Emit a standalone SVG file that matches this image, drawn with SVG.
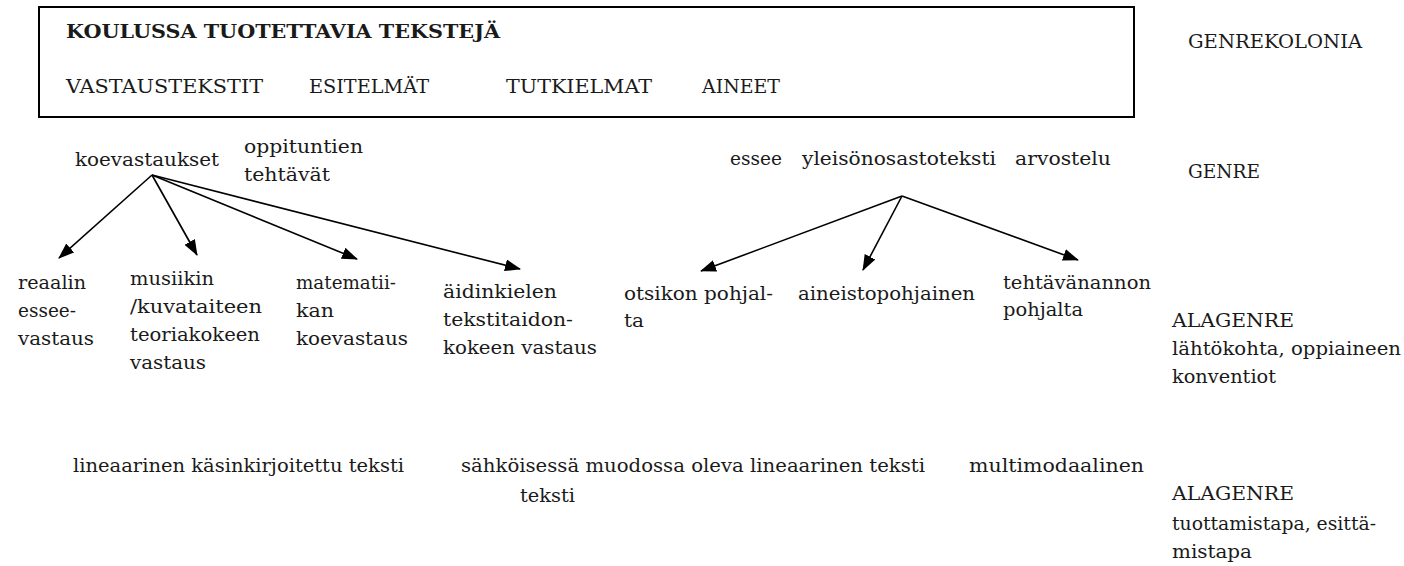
<svg xmlns="http://www.w3.org/2000/svg" width="1404" height="566" viewBox="0 0 1404 566">
  <style>
    text { font-family: 'DejaVu Serif', 'Liberation Serif', serif; font-size: 19px; fill: #1a1a1a; }
    .b { font-weight: bold; }
    .edge { stroke: #000; stroke-width: 1.6; fill: none; marker-end: url(#ah); }
  </style>
  <defs>
    <marker id="ah" markerWidth="16" markerHeight="12" refX="15" refY="6" orient="auto" markerUnits="userSpaceOnUse">
      <path d="M0,0 L16,6 L0,12 Z" fill="#000"/>
    </marker>
  </defs>
  <rect width="1404" height="566" fill="#fff"/>

  <!-- genre colony box -->
  <g id="colony">
    <rect x="39" y="7" width="1095" height="110" fill="none" stroke="#000" stroke-width="2"/>
    <text class="b" x="66" y="38" textLength="434" lengthAdjust="spacingAndGlyphs">KOULUSSA TUOTETTAVIA TEKSTEJÄ</text>
    <text x="66" y="93" textLength="197" lengthAdjust="spacingAndGlyphs">VASTAUSTEKSTIT</text>
    <text x="309" y="93" textLength="120" lengthAdjust="spacingAndGlyphs">ESITELMÄT</text>
    <text x="506" y="93" textLength="146" lengthAdjust="spacingAndGlyphs">TUTKIELMAT</text>
    <text x="702" y="93" textLength="78" lengthAdjust="spacingAndGlyphs">AINEET</text>
  </g>

  <!-- level labels -->
  <g id="levels">
    <text x="1188" y="48" textLength="174" lengthAdjust="spacingAndGlyphs">GENREKOLONIA</text>
    <text x="1188" y="178" textLength="72" lengthAdjust="spacingAndGlyphs">GENRE</text>
    <text x="1172" y="327" textLength="122" lengthAdjust="spacingAndGlyphs">ALAGENRE</text>
    <text x="1172" y="355" textLength="229" lengthAdjust="spacingAndGlyphs">lähtökohta, oppiaineen</text>
    <text x="1172" y="383" textLength="104" lengthAdjust="spacingAndGlyphs">konventiot</text>
    <text x="1172" y="500" textLength="122" lengthAdjust="spacingAndGlyphs">ALAGENRE</text>
    <text x="1172" y="530" textLength="204" lengthAdjust="spacingAndGlyphs">tuottamistapa, esittä-</text>
    <text x="1172" y="558" textLength="80" lengthAdjust="spacingAndGlyphs">mistapa</text>
  </g>

  <!-- genres -->
  <g id="koevastaukset"><text x="75" y="166" textLength="144" lengthAdjust="spacingAndGlyphs">koevastaukset</text></g>
  <g id="oppituntien-tehtavat">
    <text x="244" y="153" textLength="119" lengthAdjust="spacingAndGlyphs">oppituntien</text>
    <text x="244" y="181" textLength="86" lengthAdjust="spacingAndGlyphs">tehtävät</text>
  </g>
  <g id="essee"><text x="730" y="165" textLength="52" lengthAdjust="spacingAndGlyphs">essee</text></g>
  <g id="yleisonosastoteksti"><text x="802" y="165" textLength="194" lengthAdjust="spacingAndGlyphs">yleisönosastoteksti</text></g>
  <g id="arvostelu"><text x="1015" y="165" textLength="96" lengthAdjust="spacingAndGlyphs">arvostelu</text></g>

  <!-- subgenres: starting point / subject conventions -->
  <g id="reaalin">
    <text x="18" y="289" textLength="68" lengthAdjust="spacingAndGlyphs">reaalin</text>
    <text x="18" y="317" textLength="58" lengthAdjust="spacingAndGlyphs">essee-</text>
    <text x="18" y="345" textLength="76" lengthAdjust="spacingAndGlyphs">vastaus</text>
  </g>
  <g id="musiikin">
    <text x="130" y="285" textLength="84" lengthAdjust="spacingAndGlyphs">musiikin</text>
    <text x="130" y="313" textLength="132" lengthAdjust="spacingAndGlyphs">/kuvataiteen</text>
    <text x="130" y="341" textLength="130" lengthAdjust="spacingAndGlyphs">teoriakokeen</text>
    <text x="130" y="369" textLength="76" lengthAdjust="spacingAndGlyphs">vastaus</text>
  </g>
  <g id="matematiikan">
    <text x="296" y="289" textLength="100" lengthAdjust="spacingAndGlyphs">matematii-</text>
    <text x="296" y="317" textLength="38" lengthAdjust="spacingAndGlyphs">kan</text>
    <text x="296" y="345" textLength="112" lengthAdjust="spacingAndGlyphs">koevastaus</text>
  </g>
  <g id="aidinkielen">
    <text x="443" y="298" textLength="114" lengthAdjust="spacingAndGlyphs">äidinkielen</text>
    <text x="443" y="326" textLength="130" lengthAdjust="spacingAndGlyphs">tekstitaidon-</text>
    <text x="443" y="354" textLength="154" lengthAdjust="spacingAndGlyphs">kokeen vastaus</text>
  </g>
  <g id="otsikon">
    <text x="624" y="300" textLength="149" lengthAdjust="spacingAndGlyphs">otsikon pohjal-</text>
    <text x="624" y="327" textLength="20" lengthAdjust="spacingAndGlyphs">ta</text>
  </g>
  <g id="aineistopohjainen"><text x="798" y="300" textLength="177" lengthAdjust="spacingAndGlyphs">aineistopohjainen</text></g>
  <g id="tehtavanannon">
    <text x="1003" y="289" textLength="148" lengthAdjust="spacingAndGlyphs">tehtävänannon</text>
    <text x="1003" y="316" textLength="80" lengthAdjust="spacingAndGlyphs">pohjalta</text>
  </g>

  <!-- subgenres: production / presentation -->
  <g id="kasinkirjoitettu"><text x="73" y="472" textLength="331" lengthAdjust="spacingAndGlyphs">lineaarinen käsinkirjoitettu teksti</text></g>
  <g id="sahkoinen">
    <text x="461" y="472" textLength="464" lengthAdjust="spacingAndGlyphs">sähköisessä muodossa oleva lineaarinen teksti</text>
    <text x="520" y="502" textLength="55" lengthAdjust="spacingAndGlyphs">teksti</text>
  </g>
  <g id="multimodaalinen"><text x="969" y="472" textLength="175" lengthAdjust="spacingAndGlyphs">multimodaalinen</text></g>

  <!-- connectors -->
  <g id="connectors">
    <path class="edge" d="M152,175 L59,258"/>
    <path class="edge" d="M152,175 L197,255"/>
    <path class="edge" d="M152,175 L357,259"/>
    <path class="edge" d="M152,175 L520,269"/>
    <path class="edge" d="M902,196 L701,271"/>
    <path class="edge" d="M902,196 L863,270"/>
    <path class="edge" d="M902,196 L1078,260"/>
  </g>
</svg>
